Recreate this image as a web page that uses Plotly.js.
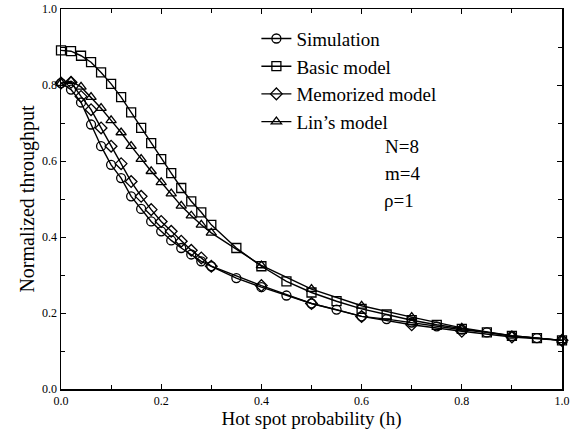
<!DOCTYPE html>
<html>
<head>
<meta charset="utf-8">
<script src="https://cdn.plot.ly/plotly-3.0.1.min.js"></script>
<style>html,body{margin:0;padding:0;background:#fff;}#chart{width:579px;height:431px;}</style>
</head>
<body>
<div id="chart"></div>
<script>
// Data
var simH = [0,0.02,0.04,0.06,0.08,0.10,0.12,0.14,0.16,0.18,0.20,0.22,0.24,0.26,0.28,0.30,0.35,0.40,0.45,0.50,0.55,0.60,0.65,0.70,0.75,0.80,0.85,0.90,0.95,1.0];
var simY = [0.805,0.788,0.754,0.696,0.639,0.590,0.555,0.507,0.474,0.441,0.415,0.391,0.371,0.354,0.336,0.323,0.292,0.268,0.246,0.225,0.209,0.191,0.184,0.175,0.165,0.156,0.149,0.139,0.134,0.128];

var basicH = [0,0.02,0.04,0.06,0.08,0.10,0.12,0.14,0.16,0.18,0.20,0.22,0.24,0.26,0.28,0.30,0.35,0.40,0.45,0.50,0.55,0.60,0.65,0.70,0.75,0.80,0.85,0.90,0.95,1.0];
var basicY = [0.891,0.889,0.877,0.860,0.833,0.803,0.768,0.728,0.687,0.647,0.605,0.568,0.529,0.494,0.465,0.432,0.371,0.323,0.283,0.254,0.231,0.211,0.196,0.181,0.169,0.158,0.149,0.140,0.134,0.128];

var memoH = [0,0.02,0.04,0.06,0.08,0.10,0.12,0.14,0.16,0.18,0.20,0.22,0.24,0.26,0.28,0.30,0.40,0.50,0.60,0.70,0.80,0.90,1.0];
var memoY = [0.805,0.807,0.770,0.735,0.687,0.639,0.593,0.546,0.507,0.472,0.441,0.415,0.389,0.365,0.345,0.323,0.272,0.225,0.191,0.169,0.152,0.137,0.128];

var linH = [0,0.02,0.04,0.06,0.08,0.10,0.12,0.14,0.16,0.18,0.20,0.22,0.24,0.26,0.28,0.30,0.40,0.50,0.60,0.70,0.80,0.90,1.0];
var linY = [0.805,0.810,0.795,0.768,0.739,0.707,0.675,0.639,0.605,0.573,0.544,0.514,0.482,0.456,0.432,0.411,0.325,0.263,0.219,0.189,0.161,0.140,0.128];

var seriesNames = ["Simulation","Basic model","Memorized model","Lin\u2019s model"];
var xTickVals = [0,0.2,0.4,0.6,0.8,1.0];
var xTickText = ["0.0","0.2","0.4","0.6","0.8","1.0"];
var yTickVals = [0,0.2,0.4,0.6,0.8,1.0];
var yTickText = ["0.0","0.2","0.4","0.6","0.8","1.0"];

var serif = "Liberation Serif, Times New Roman, serif";
function tr(x, y, name, sym) {
  return {x: x, y: y, name: name, type: "scatter", mode: "lines+markers",
    line: {color: "#000", width: 1.4},
    marker: {symbol: sym, size: 9, color: "#000", line: {color: "#000", width: 1.3}},
    cliponaxis: false};
}
var data = [
  tr(simH, simY, seriesNames[0], "circle-open"),
  tr(basicH, basicY, seriesNames[1], "square-open"),
  tr(memoH, memoY, seriesNames[2], "diamond-open"),
  tr(linH, linY, seriesNames[3], "triangle-up-open")
];

var axBase = {showgrid: false, zeroline: false, showline: true, linecolor: "#000", linewidth: 1.5,
  mirror: "allticks", ticks: "inside", ticklen: 5, tickcolor: "#000", tickwidth: 1,
  tickfont: {family: serif, size: 12, color: "#000"},
  minor: {dtick: 0.1, ticks: "inside", ticklen: 4, tickcolor: "#000", tickwidth: 1}};

var layout = {
  width: 579, height: 431,
  margin: {l: 61, r: 17, t: 9, b: 42},
  paper_bgcolor: "#fff", plot_bgcolor: "#fff",
  showlegend: true,
  legend: {x: 0.39, y: 0.972, xanchor: "left", yanchor: "top", bgcolor: "rgba(0,0,0,0)",
    font: {family: serif, size: 19, color: "#000"}, tracegroupgap: 0},
  xaxis: Object.assign({}, axBase, {range: [0, 1.0], tickvals: xTickVals, ticktext: xTickText,
    title: {text: "Hot spot probability (h)", font: {family: serif, size: 19, color: "#000"}, standoff: 3}}),
  yaxis: Object.assign({}, axBase, {range: [0, 1.0], tickvals: yTickVals, ticktext: yTickText,
    title: {text: "Normalized throughput", font: {family: serif, size: 20, color: "#000"}, standoff: 2}}),
  annotations: [
    {xref: "paper", yref: "paper", x: 0.643, y: 0.637, xanchor: "left", yanchor: "middle", showarrow: false, text: "N=8", font: {family: serif, size: 19, color: "#000"}},
    {xref: "paper", yref: "paper", x: 0.643, y: 0.566, xanchor: "left", yanchor: "middle", showarrow: false, text: "m=4", font: {family: serif, size: 19, color: "#000"}},
    {xref: "paper", yref: "paper", x: 0.641, y: 0.497, xanchor: "left", yanchor: "middle", showarrow: false, text: "\u03C1=1", font: {family: serif, size: 19, color: "#000"}}
  ]
};
Plotly.newPlot("chart", data, layout, {displayModeBar: false, staticPlot: true});
</script>
</body>
</html>
